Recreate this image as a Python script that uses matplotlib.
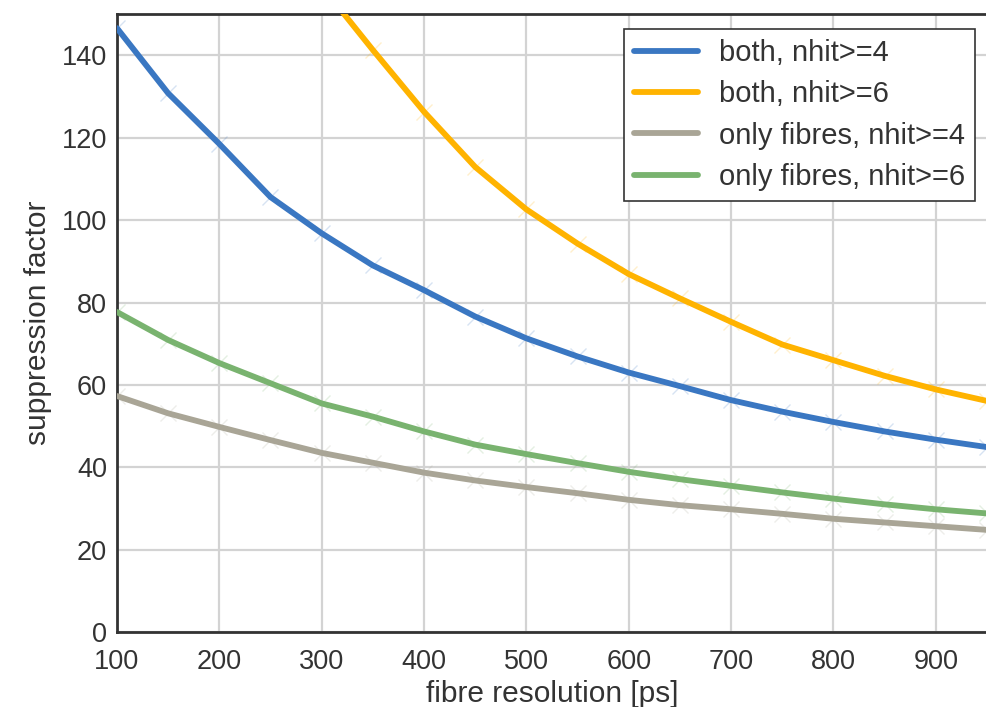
import numpy as np
import matplotlib.pyplot as plt

# fibre time resolution scan, step 50 ps
resolution = [100, 150, 200, 250, 300, 350, 400, 450, 500, 550,
              600, 650, 700, 750, 800, 850, 900, 950]

both_nhit4 = [146.6, 130.8, 118.5, 105.6, 96.8, 89.0, 83.0, 76.6, 71.3, 66.9,
              63.0, 59.7, 56.3, 53.5, 51.0, 48.7, 46.7, 44.9]
both_nhit6 = [np.nan, np.nan, np.nan, np.nan, 156.8, 141.3, 126.3, 112.9, 102.6, 94.3,
              86.9, 81.0, 75.3, 69.8, 66.0, 62.2, 58.9, 56.1]
fibres_nhit4 = [57.3, 53.1, 49.8, 46.6, 43.5, 41.1, 38.7, 36.8, 35.2, 33.7,
                32.1, 30.8, 29.8, 28.7, 27.5, 26.6, 25.7, 24.8]
fibres_nhit6 = [77.7, 70.9, 65.3, 60.4, 55.5, 52.3, 48.7, 45.5, 43.2, 41.0,
                38.9, 37.1, 35.5, 33.9, 32.4, 31.0, 29.8, 28.8]

labels = ['both, nhit>=4', 'both, nhit>=6', 'only fibres, nhit>=4', 'only fibres, nhit>=6']
colors = ['#3a77c2', '#ffb300', '#a9a596', '#79b36f']

plt.rcParams['font.family'] = ['Liberation Sans', 'DejaVu Sans']

fig = plt.figure(figsize=(9.87, 7.07), dpi=100)
ax = fig.add_axes([0.1185, 0.106, 0.8815, 0.874])

for y, lab, c in zip([both_nhit4, both_nhit6, fibres_nhit4, fibres_nhit6], labels, colors):
    ax.plot(resolution, y, color=c, lw=4.2, label=lab, solid_capstyle='round', zorder=3)
    ax.plot(resolution, y, ls='none', marker='x', ms=11, mew=1.0, color=c, alpha=0.2, zorder=2)

ax.set_xlim(100, 950)
ax.set_ylim(0, 150)
ax.set_xticks(range(100, 1000, 100))
ax.set_yticks(range(0, 160, 20))
ax.grid(True, color='#d3d3d3', lw=1.6)
ax.set_axisbelow(True)

for side in ['left', 'bottom', 'top']:
    ax.spines[side].set_color('#333333')
    ax.spines[side].set_linewidth(2)
ax.spines['right'].set_visible(False)

ax.tick_params(length=0, colors='#333333', labelsize=19.5)
ax.tick_params(axis='y', pad=7)
ax.tick_params(axis='x', pad=12)

ax.set_ylabel('suppression factor', fontsize=21.5, color='#333333', labelpad=7)
ax.set_xlabel('fibre resolution [ps]', fontsize=21.5, color='#333333', labelpad=4)

leg = ax.legend(loc='upper right', bbox_to_anchor=(0.9862, 0.9757), borderaxespad=0,
                fontsize=21, frameon=True, fancybox=False, framealpha=1,
                edgecolor='#333333', handlelength=2.2, labelspacing=0.45,
                borderpad=0.35, handletextpad=0.7)
leg.get_frame().set_linewidth(1.2)
for t in leg.get_texts():
    t.set_color('#333333')

fig.savefig('out.png', dpi=100)
